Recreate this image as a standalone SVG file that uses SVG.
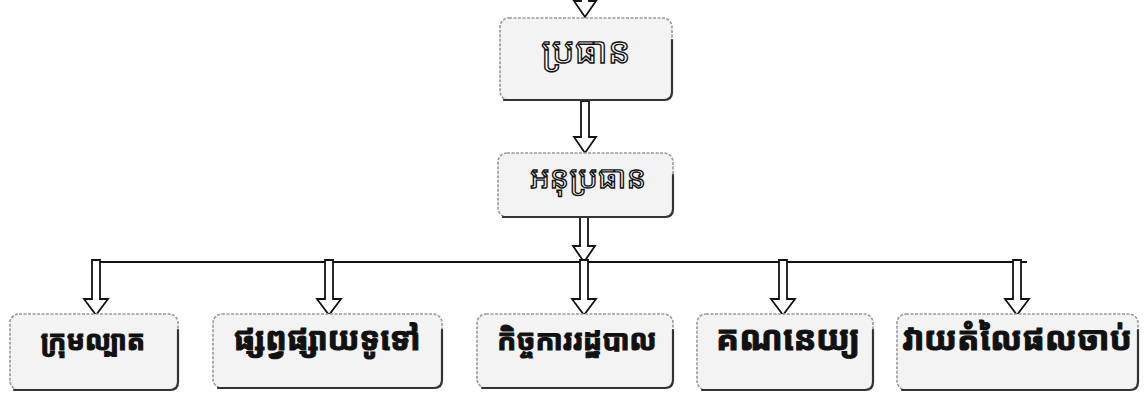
<svg xmlns="http://www.w3.org/2000/svg" width="1144" height="403" viewBox="0 0 1144 403">
<defs>
<style>
.box{fill:#f3f3f3;stroke:#9a9a9a;stroke-width:1.6;stroke-dasharray:3 1.5}
.shadow{fill:none;stroke:#333;stroke-width:2.2;stroke-linecap:round}
.arr{fill:#fff;stroke:#111;stroke-width:1.8;stroke-linejoin:miter}
.line{stroke:#111;stroke-width:2.2;fill:none}
.t1{font-family:"Noto Sans Khmer","Khmer OS","Noto Sans",sans-serif;fill:#fff;stroke:#111;stroke-width:1.4;text-anchor:middle}
.t2{font-family:"Noto Sans Khmer","Khmer OS","Noto Sans",sans-serif;font-weight:bold;fill:#111;stroke:#111;stroke-width:1.1;text-anchor:middle}
</style>
</defs>
<rect width="1144" height="403" fill="#fff"/>
<g id="connectors">
<path class="arr" d="M581 -2 V1 H574 L585 17 L596 1 H589 V-2"/>
<path class="arr" d="M581 101 V137 H574 L585 153 L596 137 H589 V101 Z"/>
<path class="arr" d="M580 217 V246 H573 L584 262 L595 246 H588 V217 Z"/>
<line class="line" x1="91" y1="262" x2="1027" y2="262"/>
<path class="arr" d="M92 260 V299 H84 L96 315 L108 299 H100 V260 Z"/>
<path class="arr" d="M325 260 V299 H317 L329 315 L341 299 H333 V260 Z"/>
<path class="arr" d="M580 260 V299 H572 L584 315 L596 299 H588 V260 Z"/>
<path class="arr" d="M779 260 V299 H771 L783 315 L795 299 H787 V260 Z"/>
<path class="arr" d="M1013 260 V299 H1005 L1017 315 L1029 299 H1021 V260 Z"/>
</g>
<g id="n-president">
<rect class="box" x="500" y="18" width="172" height="82" rx="9"/>
<path class="shadow" d="M504 100 H664 Q672 100 672 92 V40"/>
<text class="t1" x="586" y="63" font-size="36">ប្រធាន</text>
</g>
<g id="n-vice">
<rect class="box" x="498" y="153" width="175" height="64" rx="9"/>
<path class="shadow" d="M503 217 H665 Q673 217 673 209 V175"/>
<text class="t1" x="588" y="188" font-size="31">អនុប្រធាន</text>
</g>
<g id="n-patrol">
<rect class="box" x="10" y="314" width="168" height="76" rx="9"/>
<path class="shadow" d="M14 390 H170 Q178 390 178 382 V330"/>
<text class="t2" x="93" y="350" font-size="27">ក្រុមល្បាត</text>
</g>
<g id="n-dissemination">
<rect class="box" x="213" y="314" width="229" height="74" rx="9"/>
<path class="shadow" d="M218 388 H434 Q442 388 442 380 V330"/>
<text class="t2" x="327" y="350" font-size="32">ផ្សព្វផ្សាយទូទៅ</text>
</g>
<g id="n-admin">
<rect class="box" x="477" y="314" width="196" height="74" rx="9"/>
<path class="shadow" d="M482 388 H665 Q673 388 673 380 V330"/>
<text class="t2" x="577" y="350" font-size="28">កិច្ចការរដ្ឋបាល</text>
</g>
<g id="n-accounting">
<rect class="box" x="697" y="314" width="176" height="76" rx="9"/>
<path class="shadow" d="M702 390 H865 Q873 390 873 382 V330"/>
<text class="t2" x="788" y="350" font-size="34">គណនេយ្យ</text>
</g>
<g id="n-evaluation">
<rect class="box" x="897" y="314" width="241" height="76" rx="9"/>
<path class="shadow" d="M902 390 H1130 Q1138 390 1138 382 V330"/>
<text class="t2" x="1017" y="350" font-size="33">វាយតំលៃផលចាប់</text>
</g>
</svg>
